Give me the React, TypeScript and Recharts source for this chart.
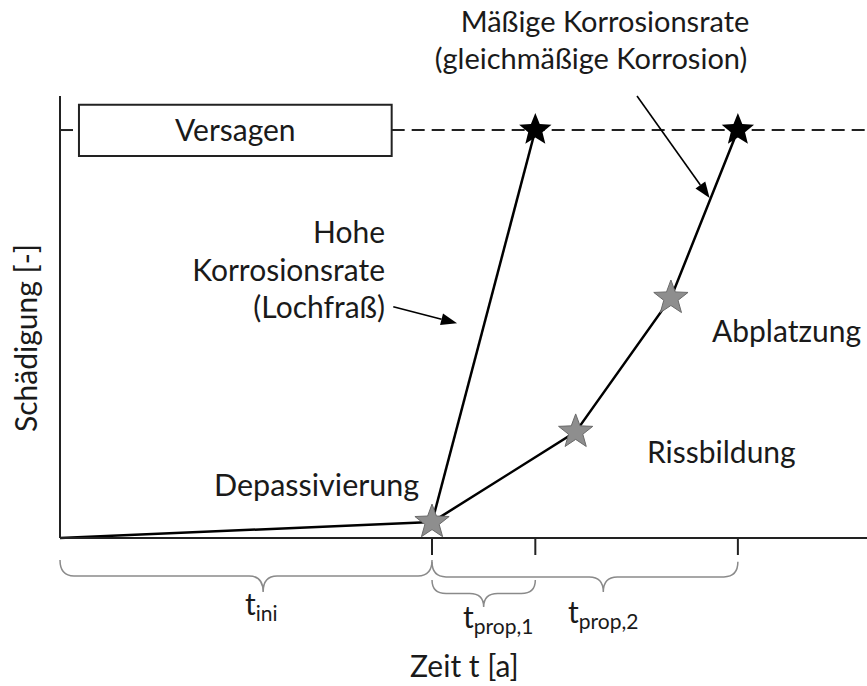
import React from 'react';
import {
  ComposedChart, Line, Scatter, XAxis, YAxis, ReferenceLine, ReferenceArea, Customized,
} from 'recharts';

// Zeit t (arbitrary units 0..100) vs. Schädigung (0..100)
const initiation = [
  { t: 0, d: 0 },
  { t: 46.1, d: 3.6 },
];
const pittingPath = [
  { t: 46.1, d: 3.6 },
  { t: 58.9, d: 92.3 },
];
const uniformPath = [
  { t: 46.1, d: 3.6 },
  { t: 63.9, d: 24.0 },
  { t: 75.7, d: 54.3 },
  { t: 84.0, d: 92.3 },
];
const stageStars = [
  { t: 46.1, d: 3.6 },
  { t: 63.9, d: 24.0 },
  { t: 75.7, d: 54.3 },
];
const failureStars = [
  { t: 58.9, d: 92.3 },
  { t: 84.0, d: 92.3 },
];
const failureLevel = 92.3;
const phaseTicks = [46.1, 58.9, 84.0];

const FONT = 'Lato, "Open Sans", sans-serif';
const TXT = '#1a1a1a';

const starPoints = (cx: number, cy: number, ro: number, ri: number) => {
  const pts: string[] = [];
  for (let i = 0; i < 10; i++) {
    const r = i % 2 === 0 ? ro : ri;
    const a = -Math.PI / 2 + (i * Math.PI) / 5;
    pts.push(`${cx + r * Math.cos(a)},${cy + r * Math.sin(a)}`);
  }
  return pts.join(' ');
};

const GrayStar = (props: any) => (
  <polygon points={starPoints(props.cx, props.cy, 18, 7.5)} fill="#8e8e8e" stroke="#6a6a6a" strokeWidth={1} />
);
const BlackStar = (props: any) => (
  <polygon points={starPoints(props.cx, props.cy, 17, 7.5)} fill="#000" />
);

const Arrow = (props: any) => {
  const { x1, y1, x2, y2 } = props;
  const a = Math.atan2(y2 - y1, x2 - x1);
  const L = 16;
  const W = 6;
  const bx = x2 - L * Math.cos(a);
  const by = y2 - L * Math.sin(a);
  const px = -Math.sin(a) * W;
  const py = Math.cos(a) * W;
  return (
    <g>
      <line x1={x1} y1={y1} x2={bx} y2={by} stroke="#000" strokeWidth={1.6} />
      <polygon points={`${x2},${y2} ${bx + px},${by + py} ${bx - px},${by - py}`} fill="#000" />
    </g>
  );
};

// curly brace opening upwards, tip placed at a fraction of the width
const makeBrace = (tipFrac: number) => (props: any) => {
  const { x, y, width, height } = props;
  const ym = y + height / 2;
  const mid = x + width * tipFrac;
  const r = Math.min(14, width / 6);
  const d = `M${x},${y} Q${x},${ym} ${x + r},${ym} L${mid - r},${ym} Q${mid},${ym} ${mid},${y + height}`
    + ` Q${mid},${ym} ${mid + r},${ym} L${x + width - r},${ym} Q${x + width},${ym} ${x + width},${y}`;
  return <path d={d} fill="none" stroke="#8a8a8a" strokeWidth={1.5} />;
};

const Annotations = () => (
  <g fontFamily={FONT} fill={TXT}>
    <text x={605} y={32} fontSize={29} textAnchor="middle">Mäßige Korrosionsrate</text>
    <text x={591} y={69} fontSize={29} textAnchor="middle">(gleichmäßige Korrosion)</text>
    <text x={385} y={243} fontSize={30} textAnchor="end">Hohe</text>
    <text x={385} y={281} fontSize={30} textAnchor="end">Korrosionsrate</text>
    <text x={385} y={318} fontSize={30} textAnchor="end">(Lochfraß)</text>
    <text x={214} y={496} fontSize={30.5}>Depassivierung</text>
    <text x={647} y={463} fontSize={30}>Rissbildung</text>
    <text x={712} y={342} fontSize={30}>Abplatzung</text>
    <text x={410} y={677} fontSize={30}>Zeit t [a]</text>
    <text x={25} y={338} fontSize={30} textAnchor="middle" dominantBaseline="central" transform="rotate(-90 25 338)">
      Schädigung [-]
    </text>
    <text x={245} y={615} fontSize={30}>t<tspan fontSize={21} dy={6}>ini</tspan></text>
    <text x={463} y={628} fontSize={30}>t<tspan fontSize={21} dy={6}>prop,1</tspan></text>
    <text x={568} y={623} fontSize={30}>t<tspan fontSize={21} dy={6}>prop,2</tspan></text>
  </g>
);

export default function App() {
  return (
    <div style={{ position: 'absolute', left: 0, top: 0, background: '#fff' }}>
      <ComposedChart width={867} height={686} margin={{ top: 96, right: 0, bottom: 118, left: 0 }}>
        <XAxis
          type="number"
          dataKey="t"
          domain={[0, 100]}
          ticks={phaseTicks}
          tickFormatter={() => ''}
          tickSize={17}
          height={30}
          axisLine={{ stroke: '#222', strokeWidth: 2 }}
          tickLine={{ stroke: '#222', strokeWidth: 2 }}
        />
        <YAxis
          type="number"
          dataKey="d"
          domain={[0, 100]}
          width={60}
          tick={false}
          tickLine={false}
          axisLine={{ stroke: '#222', strokeWidth: 2 }}
        />
        <ReferenceLine
          segment={[{ x: 0, y: failureLevel }, { x: 2.35, y: failureLevel }]}
          stroke="#222"
          strokeWidth={2}
          strokeDasharray="13 7"
        />
        <ReferenceLine
          segment={[{ x: 41.1, y: failureLevel }, { x: 100, y: failureLevel }]}
          stroke="#222"
          strokeWidth={2}
          strokeDasharray="13 7"
        />
        <ReferenceArea
          x1={2.35}
          x2={41.1}
          y1={86.4}
          y2={98}
          fill="#fff"
          fillOpacity={1}
          stroke="#222"
          strokeWidth={2}
          label={{ value: 'Versagen', position: 'center', fontSize: 30, fontFamily: FONT, fill: TXT }}
        />
        <ReferenceArea x1={0} x2={46.1} y1={-12.2} y2={-5.0} ifOverflow="visible" shape={makeBrace(0.546)} />
        <ReferenceArea x1={46.1} x2={84.0} y1={-12.2} y2={-5.4} ifOverflow="visible" shape={makeBrace(0.56)} />
        <ReferenceArea x1={46.1} x2={58.9} y1={-15.6} y2={-9.5} ifOverflow="visible" shape={makeBrace(0.5)} />
        <ReferenceLine
          segment={[{ x: 41.3, y: 52.3 }, { x: 49.2, y: 48.6 }]}
          ifOverflow="visible"
          shape={Arrow}
        />
        <ReferenceLine
          segment={[{ x: 71.5, y: 100 }, { x: 80.5, y: 76.9 }]}
          ifOverflow="visible"
          shape={Arrow}
        />
        <Line data={initiation} dataKey="d" type="linear" stroke="#000" strokeWidth={2.5} dot={false} isAnimationActive={false} />
        <Line data={pittingPath} dataKey="d" type="linear" stroke="#000" strokeWidth={2.5} dot={false} isAnimationActive={false} />
        <Line data={uniformPath} dataKey="d" type="linear" stroke="#000" strokeWidth={2.5} dot={false} isAnimationActive={false} />
        <Scatter data={stageStars} dataKey="d" shape={GrayStar} isAnimationActive={false} />
        <Scatter data={failureStars} dataKey="d" shape={BlackStar} isAnimationActive={false} />
        <Customized component={Annotations} />
      </ComposedChart>
    </div>
  );
}
